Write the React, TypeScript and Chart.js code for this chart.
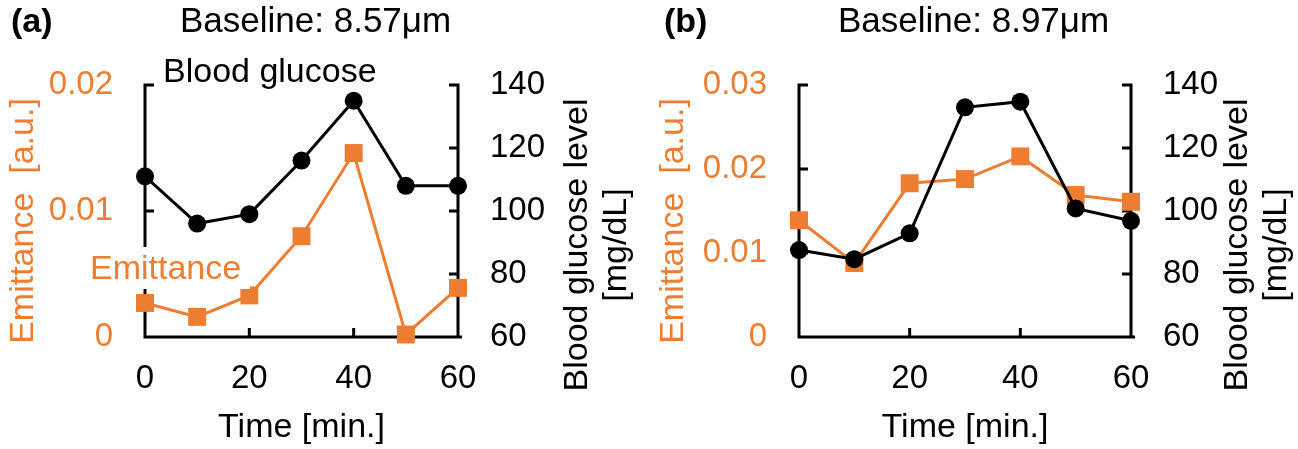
import React, { useEffect, useRef } from 'react';
import { Chart, registerables } from 'chart.js';

Chart.register(...registerables);

// ---------- data ----------
const times = [0, 10, 20, 30, 40, 50, 60];
const xTicks = [0, 20, 40, 60];
const glucoseTicks = [60, 80, 100, 120, 140];

const glucoseA = [111, 96, 99, 116, 135, 108, 108];
const emittanceA = [0.0027, 0.0016, 0.0033, 0.008, 0.0146, 0.0002, 0.0039];
const emittanceTicksA = [0, 0.01, 0.02];

const glucoseB = [87.6, 84.7, 92.9, 132.9, 134.7, 100.8, 96.9];
const emittanceB = [0.0139, 0.0088, 0.0183, 0.0188, 0.0215, 0.0169, 0.0161];
const emittanceTicksB = [0, 0.01, 0.02, 0.03];

const tagA = '(a)';
const titleA = 'Baseline: 8.57μm';
const tagB = '(b)';
const titleB = 'Baseline: 8.97μm';
const xTitle = 'Time [min.]';
const leftTitle = 'Emittance  [a.u.]';
const rightTitle = ['Blood glucose level', '[mg/dL]'];

// ---------- styles ----------
const FONT = "'Liberation Sans', Arial, Helvetica, sans-serif";
const ORANGE = '#ED7D31';
const BLACK = '#000000';
const W = 649;
const H = 449;

type Note = { text: string; x: number; y: number; color: string; bg?: number[] };
type Panel = {
  tag: string;
  title: string;
  glucose: number[];
  emittance: number[];
  emTicks: number[];
  leftW: number;
  rightW: number;
  top: number;
  bottomH: number;
  tagX: number;
  titleX: number;
  leftTitleX: number;
  rightTitleX: number[];
  notes: Note[];
};

const panels: Panel[] = [
  {
    tag: tagA,
    title: titleA,
    glucose: glucoseA,
    emittance: emittanceA,
    emTicks: emittanceTicksA,
    leftW: 145,
    rightW: 191,
    top: 85,
    bottomH: 112,
    tagX: 11,
    titleX: 180,
    leftTitleX: 33,
    rightTitleX: [587, 626],
    notes: [
      { text: 'Blood glucose', x: 163, y: 82, color: BLACK },
      { text: 'Emittance', x: 90, y: 279, color: ORANGE, bg: [86, 247, 164, 42] },
    ],
  },
  {
    tag: tagB,
    title: titleB,
    glucose: glucoseB,
    emittance: emittanceB,
    emTicks: emittanceTicksB,
    leftW: 150,
    rightW: 167,
    top: 85,
    bottomH: 112,
    tagX: 15,
    titleX: 189,
    leftTitleX: 34,
    rightTitleX: [598, 637],
    notes: [],
  },
];

const axesPlugin = {
  id: 'frameAxes',
  beforeDatasetsDraw(chart: any) {
    const { ctx, chartArea: a } = chart;
    const sx = chart.scales.x;
    const yL = chart.scales.yL;
    const yR = chart.scales.yR;
    const T = 9;
    ctx.save();
    ctx.strokeStyle = BLACK;
    ctx.lineWidth = 3;
    ctx.beginPath();
    ctx.moveTo(a.left, a.top - 1.5);
    ctx.lineTo(a.left, a.bottom + 1.5);
    ctx.moveTo(a.right, a.top - 1.5);
    ctx.lineTo(a.right, a.bottom + 1.5);
    ctx.moveTo(a.left - 1.5, a.bottom);
    ctx.lineTo(a.right + 4, a.bottom);
    yL.ticks.forEach((t: any) => {
      const y = yL.getPixelForValue(t.value);
      ctx.moveTo(a.left, y);
      ctx.lineTo(a.left + T, y);
    });
    yR.ticks.forEach((t: any) => {
      const y = yR.getPixelForValue(t.value);
      ctx.moveTo(a.right, y);
      ctx.lineTo(a.right - T, y);
    });
    sx.ticks.forEach((t: any) => {
      const x = sx.getPixelForValue(t.value);
      ctx.moveTo(x, a.bottom);
      ctx.lineTo(x, a.bottom - T);
    });
    ctx.stroke();
    ctx.restore();
  },
};

function makeTextPlugin(p: Panel) {
  return {
    id: 'panelText',
    afterDraw(chart: any) {
      const { ctx, chartArea: a } = chart;
      ctx.save();
      ctx.textBaseline = 'alphabetic';
      // tag
      ctx.font = `bold 34px ${FONT}`;
      ctx.fillStyle = BLACK;
      ctx.textAlign = 'left';
      ctx.fillText(p.tag, p.tagX, 32);
      // title
      ctx.font = `35px ${FONT}`;
      ctx.fillText(p.title, p.titleX, 32);
      ctx.font = `34px ${FONT}`;
      // notes
      p.notes.forEach((n) => {
        if (n.bg) {
          ctx.fillStyle = '#ffffff';
          ctx.fillRect(n.bg[0], n.bg[1], n.bg[2], n.bg[3]);
        }
        ctx.fillStyle = n.color;
        ctx.textAlign = 'left';
        ctx.fillText(n.text, n.x, n.y);
      });
      // x title
      ctx.fillStyle = BLACK;
      ctx.textAlign = 'center';
      ctx.fillText(xTitle, (a.left + a.right) / 2, 437);
      // left title (rotated)
      ctx.save();
      ctx.translate(p.leftTitleX, 221);
      ctx.rotate(-Math.PI / 2);
      ctx.fillStyle = ORANGE;
      ctx.textAlign = 'center';
      ctx.fillText(leftTitle, 0, 0);
      ctx.restore();
      // right title (rotated, two lines)
      rightTitle.forEach((line, i) => {
        ctx.save();
        ctx.translate(p.rightTitleX[i], 245);
        ctx.rotate(-Math.PI / 2);
        ctx.fillStyle = BLACK;
        ctx.textAlign = 'center';
        ctx.fillText(line, 0, 0);
        ctx.restore();
      });
      ctx.restore();
    },
  };
}

function setTicks(values: number[]) {
  return (s: any) => {
    s.ticks = values.map((v) => ({ value: v }));
  };
}

function PanelChart({ panel }: { panel: Panel }) {
  const ref = useRef<HTMLCanvasElement>(null);
  useEffect(() => {
    const canvas = ref.current;
    if (!canvas) return;
    const p = panel;
    const chart = new Chart(canvas, {
      type: 'line',
      data: {
        datasets: [
          {
            label: 'Blood glucose',
            data: times.map((t, i) => ({ x: t, y: p.glucose[i] })),
            yAxisID: 'yR',
            borderColor: BLACK,
            backgroundColor: BLACK,
            borderWidth: 3,
            pointStyle: 'circle',
            pointRadius: 9,
            pointBorderWidth: 0,
            pointBackgroundColor: BLACK,
            tension: 0,
            clip: false,
          } as any,
          {
            label: 'Emittance',
            data: times.map((t, i) => ({ x: t, y: p.emittance[i] })),
            yAxisID: 'yL',
            borderColor: ORANGE,
            backgroundColor: ORANGE,
            borderWidth: 3,
            pointStyle: 'rect',
            pointRadius: 12.7,
            pointBorderWidth: 0,
            pointBackgroundColor: ORANGE,
            tension: 0,
            clip: false,
          } as any,
        ],
      },
      options: {
        responsive: false,
        animation: false,
        events: [],
        layout: { padding: { left: 0, right: 0, top: p.top, bottom: 0 } },
        plugins: {
          legend: { display: false },
          tooltip: { enabled: false },
          title: { display: false },
        },
        scales: {
          x: {
            type: 'linear',
            position: 'bottom',
            min: xTicks[0],
            max: xTicks[xTicks.length - 1],
            afterBuildTicks: setTicks(xTicks),
            afterFit: (s: any) => {
              s.height = p.bottomH;
            },
            grid: { display: false },
            border: { display: false },
            ticks: {
              font: { family: FONT, size: 33 },
              color: BLACK,
              padding: 14,
              maxRotation: 0,
              autoSkip: false,
              callback: (v: any) => String(v),
            },
          },
          yL: {
            type: 'linear',
            position: 'left',
            min: p.emTicks[0],
            max: p.emTicks[p.emTicks.length - 1],
            afterBuildTicks: setTicks(p.emTicks),
            afterFit: (s: any) => {
              s.width = p.leftW;
            },
            grid: { display: false },
            border: { display: false },
            ticks: {
              font: { family: FONT, size: 33 },
              color: ORANGE,
              padding: 24,
              autoSkip: false,
              callback: (v: any) => (Number(v) === 0 ? '0' : Number(v).toFixed(2)),
            },
          },
          yR: {
            type: 'linear',
            position: 'right',
            min: glucoseTicks[0],
            max: glucoseTicks[glucoseTicks.length - 1],
            afterBuildTicks: setTicks(glucoseTicks),
            afterFit: (s: any) => {
              s.width = p.rightW;
            },
            grid: { display: false },
            border: { display: false },
            ticks: {
              font: { family: FONT, size: 33 },
              color: BLACK,
              padding: 24,
              autoSkip: false,
              callback: (v: any) => String(v),
            },
          },
        },
      } as any,
      plugins: [axesPlugin, makeTextPlugin(p)],
    });
    return () => chart.destroy();
  }, [panel]);
  return <canvas ref={ref} width={W} height={H} style={{ display: 'block', width: W, height: H }} />;
}

export default function App() {
  return (
    <div
      style={{
        position: 'fixed',
        left: 0,
        top: 0,
        width: 1298,
        height: 449,
        display: 'flex',
        background: '#ffffff',
      }}
    >
      {panels.map((p) => (
        <PanelChart key={p.tag} panel={p} />
      ))}
    </div>
  );
}
